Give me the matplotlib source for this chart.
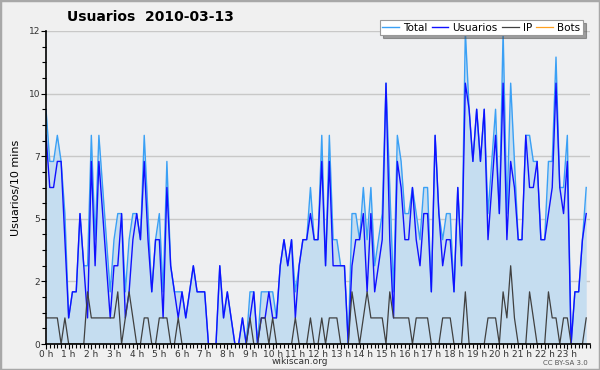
import matplotlib
matplotlib.use('Agg')
import matplotlib.pyplot as plt
from matplotlib.patches import Rectangle

total = [9,7,7,8,7,5,1,2,2,5,3,3,8,4,8,6,4,2,4,5,5,2,4,5,5,4,8,5,2,4,
         5,2,7,3,2,2,2,1,2,3,2,2,2,0,0,0,3,1,2,1,0,0,1,0,2,2,0,2,2,2,
         2,1,3,4,3,4,2,3,4,4,6,4,4,8,3,8,4,4,3,3,0,5,5,4,6,4,6,3,4,5,
         10,6,2,8,7,5,5,6,5,4,6,6,2,8,5,4,5,5,2,6,3,12,9,7,9,7,9,5,7,9,
         5,12,5,10,7,4,4,8,8,7,7,4,4,7,7,11,6,6,8,0,2,2,4,6]
usuarios = [8,6,6,7,7,4,1,2,2,5,3,1,7,3,7,5,3,1,3,3,5,1,2,4,5,4,7,4,2,4,
            4,1,6,3,2,1,2,1,2,3,2,2,2,0,0,0,3,1,2,1,0,0,1,0,1,2,0,1,1,2,
            1,1,3,4,3,4,1,3,4,4,5,4,4,7,3,7,3,3,3,3,0,3,4,4,5,2,5,2,3,4,
            10,4,1,7,6,4,4,6,4,3,5,5,2,8,5,3,4,4,2,6,3,10,9,7,9,7,9,4,6,8,
            5,10,4,7,6,4,4,8,6,6,7,4,4,5,6,10,6,5,7,0,2,2,4,5]
ip = [1,1,1,1,0,1,0,0,0,0,0,2,1,1,1,1,1,1,1,2,0,1,2,1,0,0,1,1,0,0,
      1,1,1,0,0,1,0,0,0,0,0,0,0,0,0,0,0,0,0,0,0,0,0,0,1,0,0,1,1,0,
      1,0,0,0,0,0,1,0,0,0,1,0,0,1,0,1,1,1,0,0,0,2,1,0,1,2,1,1,1,1,
      0,2,1,1,1,1,1,0,1,1,1,1,0,0,0,1,1,1,0,0,0,2,0,0,0,0,0,1,1,1,
      0,2,1,3,1,0,0,0,2,1,0,0,0,2,1,1,0,1,1,0,0,0,0,1]
bots = [0,0,0,0,0,0,0,0,0,0,0,0,0,0,0,0,0,0,0,0,0,0,0,0,0,0,0,0,0,0,
        0,0,0,0,0,0,0,0,0,0,0,0,0,0,0,0,0,0,0,0,0,0,0,0,0,0,0,0,0,0,
        0,0,0,0,0,0,0,0,0,0,0,0,0,0,0,0,0,0,0,0,0,0,0,0,0,0,0,0,0,0,
        0,0,0,0,0,0,0,0,0,0,0,0,0,0,0,0,0,0,0,0,0,0,0,0,0,0,0,0,0,0,
        0,0,0,0,0,0,0,0,0,0,0,0,0,0,0,0,0,0,0,0,0,0,0,0]
hour_labels = ["0 h", "1 h", "2 h", "3 h", "4 h", "5 h", "6 h", "7 h", "8 h", "9 h",
               "10 h", "11 h", "12 h", "13 h", "14 h", "15 h", "16 h", "17 h", "18 h",
               "19 h", "20 h", "21 h", "22 h", "23 h"]
ytick_vals = [0, 2.4, 4.8, 7.2, 9.6, 12]
ytick_labels = ["0", "2", "5", "7", "10", "12"]

fig = plt.figure(figsize=(6, 3.7), dpi=100, facecolor='#f0f0f0')
fig.patches.append(Rectangle((0, 0), 1, 1, transform=fig.transFigure,
                             fill=False, edgecolor='#a8a8a8', lw=2.5))
ax = fig.add_axes([46/600, 26/370, 544/600, 313/370])
ax.set_facecolor('#eeeff1')

x = list(range(len(total)))
ax.fill_between(x, total, 0, color='#c5ddf0', lw=0)
ax.plot(x, total, color='#3aa0f5', lw=1.0, label='Total')
ax.plot(x, usuarios, color='#1010ff', lw=1.0, label='Usuarios')
ax.plot(x, ip, color='#404040', lw=0.9, label='IP')
ax.plot(x, bots, color='#ffa020', lw=0.9, label='Bots')

ax.set_xlim(0, 144)
ax.set_ylim(0, 12)
ax.set_yticks(ytick_vals)
ax.set_yticklabels(ytick_labels)
ax.set_yticks([i*0.6 for i in range(21)], minor=True)
ax.set_xticks(range(0, 144, 6))
ax.set_xticklabels(hour_labels)
ax.set_xticks(range(0, 145), minor=True)
for v in ytick_vals[1:]:
    ax.axhline(v, color='#c8c8c8', lw=1.0, zorder=0)

for s in ['top', 'right']:
    ax.spines[s].set_visible(False)
for s in ['left', 'bottom']:
    ax.spines[s].set_color('black')
    ax.spines[s].set_linewidth(1.2)
ax.tick_params(axis='both', which='major', length=3.5, width=0.8, labelsize=6.5, pad=0.5, colors='black')
ax.tick_params(axis='both', which='minor', length=3, width=0.8)
for lab in ax.get_xticklabels():
    lab.set_color('#333333')
for lab in ax.get_yticklabels():
    lab.set_color('#333333')

ax.set_ylabel('Usuarios/10 mins', fontsize=8, labelpad=6)
fig.text(150/600, 1 - 17/370, 'Usuarios  2010-03-13', fontsize=10, fontweight='bold',
         ha='center', va='center')
fig.text(300/600, 1 - 362/370, 'wikiscan.org', fontsize=6.5, ha='center', va='center', color='#333333')
fig.text(565/600, 1 - 363/370, 'CC BY-SA 3.0', fontsize=5, ha='center', va='center', color='#555555')

leg = fig.legend(loc='upper right', bbox_to_anchor=(588/600, 1 - 15/370), ncol=4, fontsize=7.5,
                 handlelength=1.6, columnspacing=0.4, handletextpad=0.4, borderpad=0.25,
                 frameon=True, fancybox=False, shadow=True)
leg.get_frame().set_edgecolor('#999999')
leg.get_frame().set_linewidth(0.8)

fig.savefig('out.png', dpi=100, facecolor=fig.get_facecolor())
